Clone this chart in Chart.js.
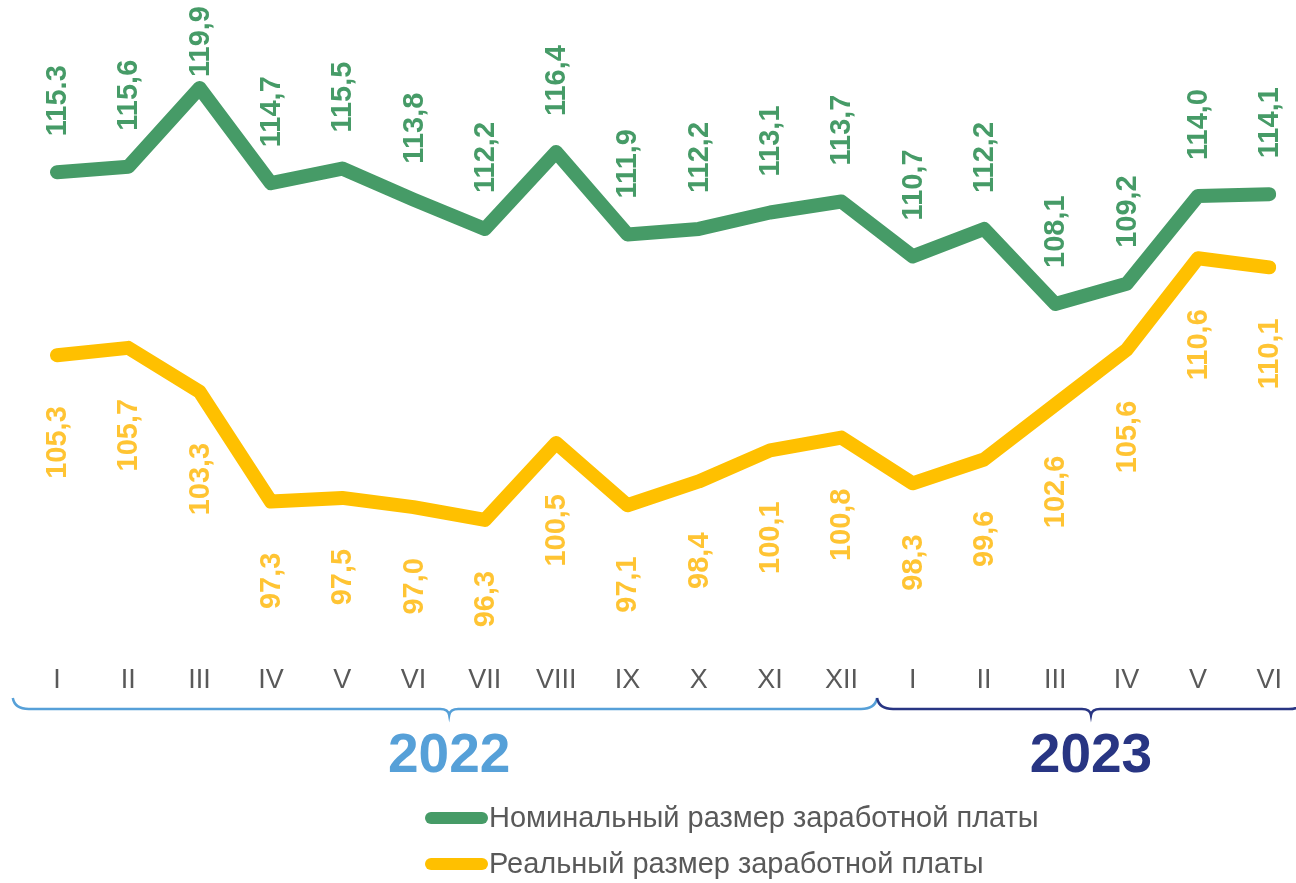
<!DOCTYPE html>
<html lang="ru">
<head>
<meta charset="utf-8">
<script src="https://cdn.jsdelivr.net/npm/chart.js@4.4.0/dist/chart.umd.min.js"></script>
<style>
  html, body { margin: 0; padding: 0; background: #fff; }
  #wrap { width: 1296px; height: 883px; }
</style>
</head>
<body>
<div id="wrap"><canvas id="wageChart" width="1296" height="883"></canvas></div>
<script>
const months = ['I', 'II', 'III', 'IV', 'V', 'VI', 'VII', 'VIII', 'IX', 'X', 'XI', 'XII',
                'I', 'II', 'III', 'IV', 'V', 'VI'];
const nominal = [115.3, 115.6, 119.9, 114.7, 115.5, 113.8, 112.2, 116.4, 111.9, 112.2, 113.1, 113.7,
                 110.7, 112.2, 108.1, 109.2, 114.0, 114.1];
const real = [105.3, 105.7, 103.3, 97.3, 97.5, 97.0, 96.3, 100.5, 97.1, 98.4, 100.1, 100.8,
              98.3, 99.6, 102.6, 105.6, 110.6, 110.1];
const nominalLabels = ['115.3', '115,6', '119,9', '114,7', '115,5', '113,8', '112,2', '116,4', '111,9',
                       '112,2', '113,1', '113,7', '110,7', '112,2', '108,1', '109,2', '114,0', '114,1'];
const realLabels = real.map(v => v.toFixed(1).replace('.', ','));
const years = ['2022', '2023'];
const monthsPerYear = [12, 6];
const seriesNames = ['Номинальный размер заработной платы', 'Реальный размер заработной платы'];

const GREEN = '#469b67';
const YELLOW = '#ffc000';
const YELLOW_TEXT = '#ffc433';
const YEAR_COLORS = ['#56a0d8', '#283583'];
const GREY = '#595959';
const FONT = "'Liberation Sans', Arial, sans-serif";

function drawValueLabels(chart, index, labels, color, offset) {
  const ctx = chart.ctx;
  const meta = chart.getDatasetMeta(index);
  ctx.save();
  ctx.font = 'bold 29px ' + FONT;
  ctx.fillStyle = color;
  ctx.textBaseline = 'middle';
  meta.data.forEach((pt, i) => {
    let y = pt.y + offset;
    const w = ctx.measureText(labels[i]).width;
    // keep labels above the line inside the canvas, like the original
    if (offset < 0 && y - w < 6) y = 6 + w;
    ctx.save();
    ctx.translate(pt.x, y);
    ctx.rotate(-Math.PI / 2);
    ctx.textAlign = offset < 0 ? 'left' : 'right';
    ctx.fillText(labels[i], 0, 1);
    ctx.restore();
  });
  ctx.restore();
}

function drawBrace(ctx, x0, xm, x1, y, color) {
  ctx.save();
  ctx.strokeStyle = color;
  ctx.lineWidth = 2.5;
  ctx.beginPath();
  ctx.moveTo(x0, y - 11);
  ctx.quadraticCurveTo(x0 + 2, y, x0 + 16, y);
  ctx.lineTo(xm - 9, y);
  ctx.quadraticCurveTo(xm - 1, y, xm, y + 6);
  ctx.quadraticCurveTo(xm + 1, y, xm + 9, y);
  ctx.lineTo(x1 - 16, y);
  ctx.quadraticCurveTo(x1 - 2, y, x1, y - 11);
  ctx.stroke();
  ctx.restore();
}

const overlay = {
  id: 'overlay',
  afterDatasetsDraw(chart) {
    drawValueLabels(chart, 0, nominalLabels, GREEN, -36);
    drawValueLabels(chart, 1, realLabels, YELLOW_TEXT, 51);
  },
  afterDraw(chart) {
    const ctx = chart.ctx;
    const x = chart.scales.x;
    let start = 0;
    years.forEach((yr, i) => {
      const x0 = x.getPixelForValue(start - (i === 0 ? 0.62 : 0.5));
      const x1 = x.getPixelForValue(start + monthsPerYear[i] - 0.5);
      const xm = x.getPixelForValue(start + monthsPerYear[i] / 2 - 0.5);
      drawBrace(ctx, x0, xm, x1, 709, YEAR_COLORS[i]);
      ctx.save();
      ctx.font = 'bold 55px ' + FONT;
      ctx.fillStyle = YEAR_COLORS[i];
      ctx.textAlign = 'center';
      ctx.textBaseline = 'middle';
      ctx.fillText(yr, xm, 757);
      ctx.restore();
      start += monthsPerYear[i];
    });

    // legend
    [GREEN, YELLOW].forEach((c, i) => {
      const y = 818 + i * 46;
      ctx.save();
      ctx.strokeStyle = c;
      ctx.lineWidth = 12;
      ctx.lineCap = 'round';
      ctx.beginPath();
      ctx.moveTo(431, y);
      ctx.lineTo(482, y);
      ctx.stroke();
      ctx.font = '29px ' + FONT;
      ctx.fillStyle = GREY;
      ctx.textAlign = 'left';
      ctx.textBaseline = 'middle';
      ctx.fillText(seriesNames[i], 489, y + 1);
      ctx.restore();
    });
  }
};

const ctx = document.getElementById('wageChart').getContext('2d');
new Chart(ctx, {
  type: 'line',
  data: {
    labels: months,
    datasets: [{
      label: seriesNames[0],
      data: nominal,
      borderColor: GREEN,
      borderWidth: 14,
      borderCapStyle: 'round',
      borderJoinStyle: 'round',
      pointRadius: 0,
      tension: 0
    }, {
      label: seriesNames[1],
      data: real,
      borderColor: YELLOW,
      borderWidth: 14,
      borderCapStyle: 'round',
      borderJoinStyle: 'round',
      pointRadius: 0,
      tension: 0
    }]
  },
  options: {
    responsive: false,
    animation: false,
    devicePixelRatio: 1,
    layout: { padding: { left: 57, right: 23, top: 0, bottom: 163 } },
    scales: {
      x: {
        offset: false,
        grid: { display: false, drawTicks: false },
        border: { display: false },
        ticks: {
          color: GREY,
          font: { family: FONT, size: 27 },
          padding: 14,
          maxRotation: 0,
          autoSkip: false
        },
        afterFit(scale) { scale.height = 70; }
      },
      y: { display: false, min: 89.19, max: 124.71 }
    },
    plugins: {
      legend: { display: false },
      tooltip: { enabled: false }
    }
  },
  plugins: [overlay]
});
</script>
</body>
</html>
